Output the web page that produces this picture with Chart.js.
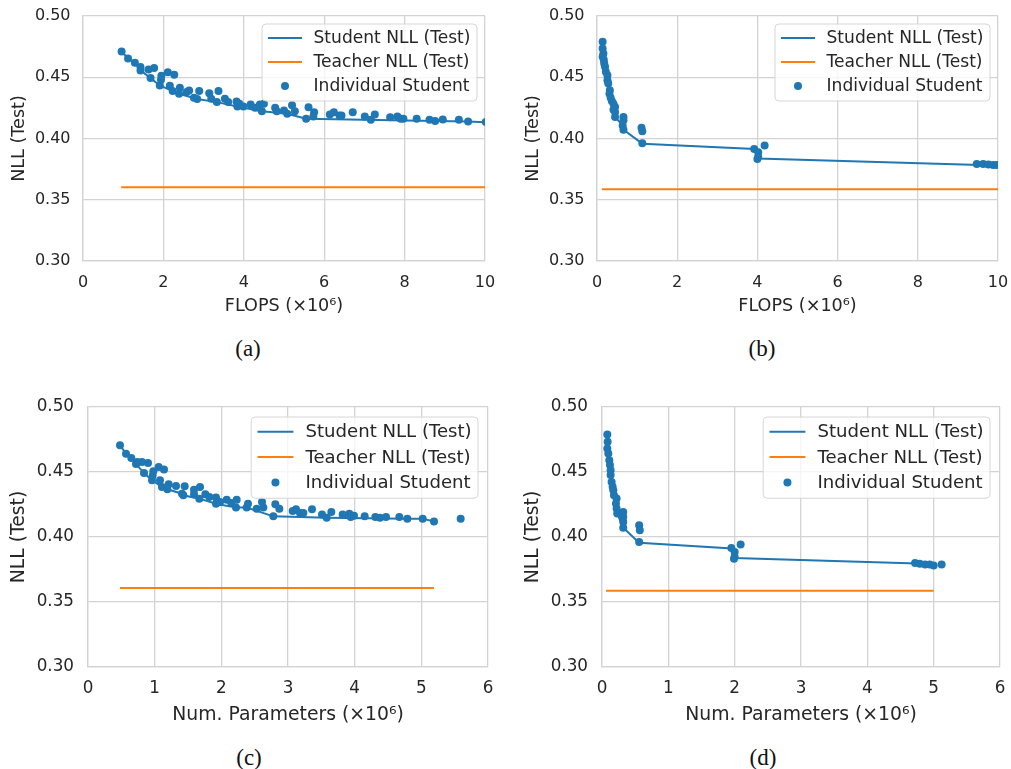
<!DOCTYPE html>
<html>
<head>
<meta charset="utf-8">
<script src="https://cdn.jsdelivr.net/npm/chart.js@4.4.1/dist/chart.umd.min.js"></script>
<style>
  html, body { margin: 0; padding: 0; background: #fff; overflow: hidden; }
  #page { position: relative; width: 1011px; height: 769px; }
  canvas { position: absolute; }
  .cap {
    position: absolute; width: 60px; margin-left: -30px; text-align: center;
    font-family: "Liberation Serif", "DejaVu Serif", serif; font-size: 23px; color: #111;
    line-height: 24px;
  }
</style>
</head>
<body>
<div id="page">
  <canvas id="chartA" width="500" height="320" style="left:0;top:0"></canvas>
  <canvas id="chartB" width="497" height="320" style="left:514px;top:0"></canvas>
  <canvas id="chartC" width="500" height="340" style="left:0;top:390px"></canvas>
  <canvas id="chartD" width="497" height="340" style="left:514px;top:390px"></canvas>
  <div class="cap" style="left:248px;top:337px">(a)</div>
  <div class="cap" style="left:762px;top:337px">(b)</div>
  <div class="cap" style="left:249px;top:746px">(c)</div>
  <div class="cap" style="left:763px;top:746px">(d)</div>
</div>
<script>
// ---- data (x in units of 10^6) ----
const nllTicks = [0.30, 0.35, 0.40, 0.45, 0.50];
const flopsTicks = [0, 2, 4, 6, 8, 10];
const paramTicks = [0, 1, 2, 3, 4, 5, 6];

// (a) FLOPS, first student family
const aStudentX = [0.96, 1.12, 1.29, 1.43, 1.43, 1.63, 1.77, 1.68, 1.91, 1.94, 1.95, 2.11, 2.27, 2.16, 2.23, 2.39,
  2.41, 2.58, 2.64, 2.76, 2.84, 2.89, 3.14, 3.19, 3.33, 3.37, 3.53, 3.61, 3.82, 3.84, 3.89, 3.99, 4.17, 4.28,
  4.40, 4.45, 4.50, 4.78, 4.82, 5.00, 5.08, 5.20, 5.27, 5.55, 5.61, 5.75, 5.73, 6.14, 6.24, 6.38, 6.43, 6.71,
  7.01, 7.16, 7.26, 7.64, 7.82, 7.90, 7.97, 8.30, 8.62, 8.76, 8.95, 9.35, 9.58, 10.02];
const aStudentY = [0.471, 0.4654, 0.4619, 0.4583, 0.4556, 0.4564, 0.4575, 0.4493, 0.4433, 0.448, 0.4512, 0.454,
  0.452, 0.443, 0.4387, 0.4365, 0.4414, 0.4379, 0.4392, 0.4332, 0.4322, 0.4387, 0.437, 0.4324, 0.4297, 0.4387,
  0.4324, 0.4297, 0.4302, 0.4262, 0.4283, 0.4262, 0.4278, 0.4251, 0.4278, 0.4223, 0.4283, 0.4251, 0.4223,
  0.4229, 0.4202, 0.4272, 0.4223, 0.4161, 0.4256, 0.4215, 0.418, 0.4196, 0.4215, 0.4188, 0.4188, 0.4215,
  0.418, 0.4153, 0.4196, 0.4174, 0.418, 0.4161, 0.4161, 0.4161, 0.4153, 0.4142, 0.4155, 0.4153, 0.4139, 0.4135];
const aFrontX = [0.96, 1.12, 1.29, 1.43, 1.68, 1.91, 2.23, 2.39, 2.84, 3.33, 3.84, 4.45, 5.08, 5.55, 8.76, 9.58, 10.6];
const aFrontY = [0.471, 0.4654, 0.4619, 0.4556, 0.4493, 0.4433, 0.4387, 0.4365, 0.4322, 0.4297, 0.4262, 0.4223,
  0.4202, 0.4161, 0.4142, 0.4139, 0.4126];
const aTeacherX = [0.95, 10.6];
const aTeacherY = [0.3603, 0.3603];

// (b) FLOPS, second student family
const bStudentX = [0.14, 0.14, 0.16, 0.14, 0.17, 0.18, 0.20, 0.22, 0.26, 0.26, 0.28, 0.32, 0.31, 0.34, 0.37, 0.41,
  0.45, 0.41, 0.45, 0.45, 0.66, 0.66, 0.64, 0.66, 1.11, 1.13, 1.13, 3.92, 4.02, 4.02, 4.00, 4.18,
  9.47, 9.63, 9.76, 9.88, 9.97];
const bStudentY = [0.479, 0.4735, 0.4694, 0.4667, 0.464, 0.4612, 0.4585, 0.4544, 0.4516, 0.4475, 0.4448, 0.4393,
  0.4366, 0.4333, 0.4306, 0.4284, 0.4257, 0.4235, 0.4216, 0.4175, 0.4175, 0.4148, 0.4107, 0.4071, 0.4087,
  0.406, 0.3962, 0.3915, 0.3888, 0.3852, 0.3833, 0.3943, 0.3792, 0.3792, 0.3787, 0.3784, 0.3784];
const bFrontX = [0.14, 0.16, 0.20, 0.26, 0.32, 0.37, 0.45, 0.64, 0.66, 1.13, 3.93, 4.01, 9.97];
const bFrontY = [0.479, 0.4694, 0.4585, 0.4475, 0.4393, 0.4306, 0.4175, 0.4107, 0.4071, 0.3958, 0.3914, 0.3837, 0.378];
const bTeacherX = [0.12, 10];
const bTeacherY = [0.3586, 0.3586];

// (c) parameters, first student family
const cStudentX = [0.48, 0.57, 0.65, 0.72, 0.74, 0.81, 0.90, 0.84, 0.96, 0.97, 0.98, 1.06, 1.14, 1.08, 1.11, 1.19,
  1.21, 1.32, 1.41, 1.43, 1.45, 1.59, 1.59, 1.68, 1.67, 1.76, 1.82, 1.92, 1.92, 1.98, 2.08, 2.15, 2.23, 2.22,
  2.38, 2.40, 2.53, 2.61, 2.63, 2.78, 2.81, 2.87, 3.07, 3.12, 3.18, 3.23, 3.36, 3.51, 3.58, 3.65, 3.82, 3.92,
  3.94, 3.99, 4.15, 4.31, 4.38, 4.47, 4.67, 4.79, 5.02, 5.19, 5.59];
const cStudentY = [0.4705, 0.4641, 0.4608, 0.4562, 0.4577, 0.4577, 0.4569, 0.4492, 0.4436, 0.4474, 0.4505, 0.4538,
  0.452, 0.4436, 0.4385, 0.4367, 0.4405, 0.4392, 0.4333, 0.4321, 0.439, 0.4364, 0.4328, 0.4385, 0.4295, 0.4328,
  0.4308, 0.4303, 0.4256, 0.4269, 0.4287, 0.4262, 0.4287, 0.4226, 0.4226, 0.4256, 0.4218, 0.4269, 0.4226,
  0.4159, 0.4251, 0.4218, 0.42, 0.4213, 0.4185, 0.4185, 0.4213, 0.4174, 0.4149, 0.4192, 0.4174, 0.4179, 0.4154,
  0.4164, 0.4159, 0.4154, 0.4149, 0.4154, 0.4154, 0.4141, 0.4141, 0.412, 0.4141];
const cFrontX = [0.48, 0.57, 0.65, 0.72, 0.84, 0.96, 1.11, 1.19, 1.41, 1.43, 1.67, 1.92, 2.22, 2.38, 2.78, 3.58, 4.79, 5.02, 5.19];
const cFrontY = [0.4705, 0.4641, 0.4608, 0.4562, 0.4492, 0.4436, 0.4385, 0.4367, 0.4333, 0.4321, 0.4295, 0.4256,
  0.4226, 0.4226, 0.4159, 0.4149, 0.4141, 0.4141, 0.412];
const cTeacherX = [0.48, 5.19];
const cTeacherY = [0.3608, 0.3608];

// (d) parameters, second student family
const dStudentX = [0.08, 0.085, 0.08, 0.095, 0.11, 0.12, 0.13, 0.13, 0.145, 0.16, 0.17, 0.18, 0.22, 0.21, 0.22, 0.23,
  0.32, 0.32, 0.32, 0.32, 0.56, 0.57, 0.56, 1.95, 2.00, 2.00, 1.99, 2.09, 4.72, 4.79, 4.87, 4.94, 5.00, 5.12];
const dStudentY = [0.4789, 0.4733, 0.4681, 0.4643, 0.4591, 0.4553, 0.4514, 0.4476, 0.4424, 0.4386, 0.436, 0.4321,
  0.4296, 0.4257, 0.4219, 0.418, 0.4193, 0.4154, 0.4116, 0.4072, 0.409, 0.4051, 0.3961, 0.3915, 0.3884,
  0.3846, 0.3833, 0.3943, 0.38, 0.3794, 0.3789, 0.3789, 0.3781, 0.3789];
const dFrontX = [0.08, 0.095, 0.12, 0.13, 0.16, 0.18, 0.22, 0.23, 0.32, 0.56, 1.96, 2.00, 5.00];
const dFrontY = [0.4789, 0.4643, 0.4553, 0.4476, 0.4386, 0.4321, 0.4257, 0.418, 0.4072, 0.3956, 0.3912, 0.3838, 0.3792];
const dTeacherX = [0.06, 5.0];
const dTeacherY = [0.3587, 0.3587];

const BLUE = '#1f77b4';
const ORANGE = '#ff7f0e';
const INK = '#262626';
const GRID = '#d3d3d3';
const FONT = 'DejaVu Sans';

const pts = (xs, ys) => xs.map((x, i) => ({ x, y: ys[i] }));

// matplotlib-style framed legend in the upper right of the plot area
const frameLegend = {
  id: 'frameLegend',
  afterDraw(chart, args, o) {
    const { ctx, chartArea } = chart;
    const s = o.scale;
    const w = 215 * s, h = 77 * s;
    const x0 = chartArea.right - o.inset - w;
    const y0 = chartArea.top + o.inset;
    ctx.save();
    ctx.beginPath();
    ctx.roundRect(x0, y0, w, h, 4);
    ctx.fillStyle = 'rgba(255,255,255,0.8)';
    ctx.fill();
    ctx.strokeStyle = '#d6d6d6';
    ctx.lineWidth = 1;
    ctx.stroke();
    ctx.font = `${o.fontSize}px "${FONT}"`;
    ctx.textBaseline = 'middle';
    chart.data.datasets.forEach((ds, i) => {
      const y = y0 + (14 + 24 * i) * s;
      if (ds.showLine) {
        ctx.strokeStyle = ds.borderColor;
        ctx.lineWidth = 2;
        ctx.beginPath();
        ctx.moveTo(x0 + 6 * s, y);
        ctx.lineTo(x0 + 40 * s, y);
        ctx.stroke();
      } else {
        ctx.fillStyle = ds.backgroundColor;
        ctx.beginPath();
        ctx.arc(x0 + 23 * s, y, 4, 0, Math.PI * 2);
        ctx.fill();
      }
      ctx.fillStyle = INK;
      ctx.fillText(ds.label, x0 + 51.5 * s, y + 1);
    });
    ctx.restore();
  }
};

function makeChart(id, p) {
  // tick labels are pushed off the axes with an invisible tick mark, so the
  // label padding does not also widen the layout padding around the plot
  const hiddenTicks = (len) => ({ color: GRID, lineWidth: 1.3, drawTicks: true, tickLength: len, tickColor: 'rgba(0,0,0,0)' });
  return new Chart(document.getElementById(id), {
    type: 'scatter',
    data: {
      datasets: [
        {
          label: 'Student NLL (Test)',
          data: pts(p.frontX, p.frontY),
          showLine: true,
          borderColor: BLUE,
          borderWidth: 2,
          pointRadius: 0,
          order: 1,
          clip: 0,
        },
        {
          label: 'Teacher NLL (Test)',
          data: pts(p.teacherX, p.teacherY),
          showLine: true,
          borderColor: ORANGE,
          borderWidth: 2,
          pointRadius: 0,
          order: 2,
          clip: 0,
        },
        {
          label: 'Individual Student',
          data: pts(p.studentX, p.studentY),
          backgroundColor: BLUE,
          borderColor: BLUE,
          borderWidth: 0,
          pointRadius: 4,
          order: 0,
          clip: 0,
        },
      ],
    },
    options: {
      responsive: false,
      animation: false,
      events: [],
      layout: { padding: { top: p.padTop, right: p.padRight, left: 0, bottom: 0 }, autoPadding: false },
      plugins: {
        legend: { display: false },
        tooltip: { enabled: false },
        frameLegend: { scale: p.legendScale, inset: p.legendInset, fontSize: p.legendFont },
      },
      scales: {
        x: {
          type: 'linear',
          min: p.xTicks[0],
          max: p.xTicks[p.xTicks.length - 1],
          afterBuildTicks: (sc) => { sc.ticks = p.xTicks.map((v) => ({ value: v })); },
          afterFit: (sc) => { sc.height = p.xHeight; },
          grid: hiddenTicks(p.xTickGap),
          border: { color: GRID, width: 1.3 },
          ticks: { color: INK, padding: 1, font: { family: FONT, size: p.tickFont }, maxRotation: 0 },
          title: {
            display: true,
            text: p.xTitle,
            color: INK,
            font: { family: FONT, size: p.titleFont },
            padding: { top: 0, bottom: p.xTitlePad },
          },
        },
        y: {
          type: 'linear',
          min: 0.30,
          max: 0.50,
          afterBuildTicks: (sc) => { sc.ticks = nllTicks.map((v) => ({ value: v })); },
          afterFit: (sc) => { sc.width = p.yWidth; },
          grid: hiddenTicks(p.yTickGap),
          border: { color: GRID, width: 1.3 },
          ticks: {
            color: INK,
            padding: 1,
            font: { family: FONT, size: p.tickFont },
            callback: (v) => v.toFixed(2),
          },
          title: {
            display: true,
            text: 'NLL (Test)',
            color: INK,
            font: { family: FONT, size: p.titleFont },
            padding: { top: p.yTitlePad, bottom: 0 },
          },
        },
      },
    },
    plugins: [frameLegend],
  });
}

const topRow = {
  xTicks: flopsTicks, xTitle: 'FLOPS (×10⁶)',
  padTop: 16, xHeight: 59, yWidth: 83,
  tickFont: 16, titleFont: 17.6, legendFont: 17.1, legendScale: 1, legendInset: 8,
  xTickGap: 11, xTitlePad: 3, yTickGap: 11.5, yTitlePad: 9,
};
const bottomRow = {
  xTicks: paramTicks, xTitle: 'Num. Parameters (×10⁶)',
  padTop: 17, xHeight: 63, yWidth: 88,
  tickFont: 16.8, titleFont: 18.8, legendFont: 18.1, legendScale: 1.055, legendInset: 10,
  xTickGap: 10.5, xTitlePad: 4, yTickGap: 13, yTitlePad: 8,
};

makeChart('chartA', { ...topRow, padRight: 15,
  studentX: aStudentX, studentY: aStudentY, frontX: aFrontX, frontY: aFrontY, teacherX: aTeacherX, teacherY: aTeacherY });
makeChart('chartB', { ...topRow, padRight: 13,
  studentX: bStudentX, studentY: bStudentY, frontX: bFrontX, frontY: bFrontY, teacherX: bTeacherX, teacherY: bTeacherY });
makeChart('chartC', { ...bottomRow, padRight: 12,
  studentX: cStudentX, studentY: cStudentY, frontX: cFrontX, frontY: cFrontY, teacherX: cTeacherX, teacherY: cTeacherY });
makeChart('chartD', { ...bottomRow, padRight: 11,
  studentX: dStudentX, studentY: dStudentY, frontX: dFrontX, frontY: dFrontY, teacherX: dTeacherX, teacherY: dTeacherY });
</script>
</body>
</html>
